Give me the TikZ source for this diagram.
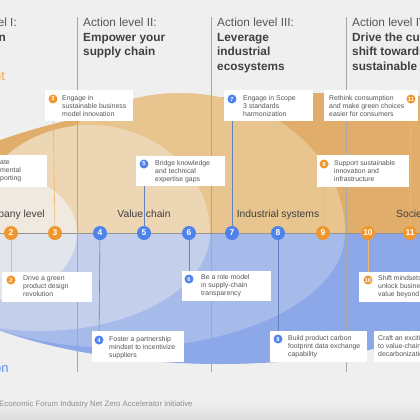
\documentclass[tikz,border=0pt]{standalone}
\usepackage{fontspec}
\setmainfont{Liberation Sans}
\definecolor{bg}{HTML}{EFEFEF}
\definecolor{socU}{HTML}{E0AE6A}
\definecolor{indU}{HTML}{E8C48F}
\definecolor{valU}{HTML}{EDD6B4}
\definecolor{comU}{HTML}{F0E9DF}
\definecolor{socL}{HTML}{8CA8E8}
\definecolor{indL}{HTML}{A7BBEA}
\definecolor{valL}{HTML}{C3CFEB}
\definecolor{comL}{HTML}{E2E5EC}
\definecolor{orc}{HTML}{F0962F}
\definecolor{blc}{HTML}{4F82EA}
\definecolor{txt}{HTML}{555555}
\definecolor{hdr}{HTML}{404040}
\definecolor{sep}{HTML}{A8A8A8}
\tikzset{
  hdrA/.style={inner sep=0pt, anchor=base west, text=txt, font=\fontsize{11.8bp}{14bp}\selectfont},
  hdrB/.style={inner sep=0pt, anchor=base west, text=hdr, font=\fontsize{11.8bp}{14bp}\selectfont\bfseries},
  lvl/.style={inner sep=0pt, anchor=base, text=hdr, font=\fontsize{10.3bp}{12bp}\selectfont},
  btxt/.style={inner sep=0pt, anchor=base west, text=txt, font=\fontsize{6.9bp}{8bp}\selectfont},
  wbox/.style={fill=white, draw=none, inner sep=0pt, anchor=north west},
  bigdot/.style={circle, inner sep=0pt, minimum size=14bp, text=white, font=\fontsize{8.5bp}{9bp}\selectfont\bfseries},
  smdot/.style={circle, inner sep=0pt, minimum size=9bp, text=white, font=\fontsize{5.8bp}{6bp}\selectfont\bfseries},
  oline/.style={draw=orc!70, line width=0.6bp},
  bline/.style={draw=blc!60!gray, line width=0.6bp},
}
\newcommand\tri[5]{%
  \node[btxt] (#1a) at (#2,#3) {#4};
  \node[btxt] (#1b) at (#2,#3+8.2) {#5};
}
\begin{document}
\begin{tikzpicture}[x=1bp,y=-1bp]
\useasboundingbox (0,0) rectangle (420,420);
\clip (0,0) rectangle (420,420);
\fill[bg] (0,0) rectangle (420,420);
\shade[top color=bg, bottom color=black!14] (0,402) rectangle (420,420);
% upper halves
\begin{scope}
\clip (-10,0) rectangle (430,233);
\fill[socU] (330,233) ellipse [x radius=441, y radius=140];
\fill[indU] (180,233) ellipse [x radius=165, y radius=140];
\fill[valU] (90,233) ellipse [x radius=120, y radius=108];
\fill[comU] (-10,233) ellipse [x radius=87, y radius=62];
\end{scope}
% lower halves
\begin{scope}
\clip (-10,233) rectangle (430,420);
\fill[socL] (220,233) ellipse [x radius=330, y radius=131];
\fill[indL] (120,233) ellipse [x radius=225, y radius=115];
\fill[valL] (40,233) ellipse [x radius=170, y radius=98];
\fill[comL] (-10,233) ellipse [x radius=87, y radius=67];
\end{scope}
% separators
\coordinate (s1t) at (77,17); \coordinate (s1b) at (77,372);
\coordinate (s2t) at (211,17); \coordinate (s2b) at (211,372);
\coordinate (s3t) at (346,17); \coordinate (s3b) at (346,372);
\draw[sep, line width=0.6bp] (s1t) -- (s1b);
\draw[sep, line width=0.6bp] (s2t) -- (s2b);
\draw[sep, line width=0.6bp] (s3t) -- (s3b);
% axis
\coordinate (axL) at (0,233); \coordinate (axR) at (420,233);
\draw[black!42, line width=0.8bp] (axL) -- (axR);
% headers
\node[hdrA,anchor=base east] (h1x) at (17,26) {el I:};
\node[hdrB,anchor=base east] (h1b) at (6,41) {n};
\node[inner sep=0pt, anchor=base west, text=orc!85, font=\fontsize{13bp}{14bp}\selectfont] (h1c) at (-6,80) {nt};
\node[inner sep=0pt, anchor=base west, text=blc!90, font=\fontsize{13bp}{14bp}\selectfont] (h1d) at (-6,372) {on};
\node[hdrA] (h2a) at (83,26) {Action level II:};
\node[hdrB] (h2b) at (83,41) {Empower your};
\node[hdrB] (h2c) at (83,55.5) {supply chain};
\node[hdrA] (h3a) at (217,26) {Action level III:};
\node[hdrB] (h3b) at (217,41) {Leverage};
\node[hdrB] (h3c) at (217,55.5) {industrial};
\node[hdrB] (h3d) at (217,70) {ecosystems};
\node[hdrA] (h4a) at (352,26) {Action level IV:};
\node[hdrB] (h4b) at (352,41) {Drive the customer};
\node[hdrB] (h4c) at (352,55.5) {shift towards};
\node[hdrB] (h4d) at (352,70) {sustainable};
% level labels
\node[lvl, anchor=base east] (l1) at (45,217) {pany level};
\node[lvl] (l2) at (144,217) {Value chain};
\node[lvl] (l3) at (278,217) {Industrial systems};
\node[lvl, anchor=base west] (l4) at (396,217) {Society};
% big dots
\foreach \n/\x/\c in {2/11/orc,3/55/orc,4/100/blc,5/144/blc,6/189/blc,7/232/blc,8/278/blc,9/323/orc,10/368/orc,11/410/orc}{
  \node[bigdot, fill=\c] (c\n) at (\x,233) {};
}
% small dots (anchors in boxes)
\node[smdot, fill=orc] (d3) at (53,99) {3};
\node[smdot, fill=orc] (d2) at (11,280) {2};
\node[smdot, fill=blc] (d5) at (144,164) {5};
\node[smdot, fill=blc] (d6) at (189,279) {6};
\node[smdot, fill=blc] (d4) at (99,340) {4};
\node[smdot, fill=blc] (d7) at (232,99) {7};
\node[smdot, fill=orc] (d9) at (324,164) {9};
\node[smdot, fill=blc] (d8) at (278,339) {8};
\node[smdot, fill=orc] (d10) at (368,280) {10};
\node[smdot, fill=orc] (d11) at (411,99) {11};
% connectors
\draw[oline] (c3) -- (d3);
\draw[oline] (c2) -- (d2);
\draw[bline] (c5) -- (d5);
\draw[bline] (c6) -- (d6);
\draw[bline] (c4) -- (d4);
\draw[bline] (c7) -- (d7);
\draw[oline] (c9) -- (d9);
\draw[bline] (c8) -- (d8);
\draw[oline] (c10) -- (d10);
\draw[oline] (c11) -- (d11);
% boxes
\node[wbox, minimum width=88bp, minimum height=31bp] (b3) at (45,90) {};
\node[wbox, minimum width=60bp, minimum height=32bp] (b1) at (-13,155) {};
\node[wbox, minimum width=90bp, minimum height=30bp] (b2) at (2,272) {};
\node[wbox, minimum width=89bp, minimum height=30bp] (b5) at (136,156) {};
\node[wbox, minimum width=89bp, minimum height=30bp] (b6) at (182,271) {};
\node[wbox, minimum width=92bp, minimum height=31bp] (b4) at (92,331) {};
\node[wbox, minimum width=89bp, minimum height=31bp] (b7) at (224,90) {};
\node[wbox, minimum width=94bp, minimum height=31bp] (b11) at (324,90) {};
\node[wbox, minimum width=92bp, minimum height=32bp] (b9) at (317,155) {};
\node[wbox, minimum width=97bp, minimum height=31bp] (b8) at (270,331) {};
\node[wbox, minimum width=70bp, minimum height=30bp] (b10) at (359,272) {};
\node[wbox, minimum width=60bp, minimum height=31bp] (b12) at (374,331) {};
% redraw small dots over boxes
\foreach \n/\c in {3/orc,2/orc,5/blc,6/blc,4/blc,7/blc,9/orc,8/blc,10/orc,11/orc}{
  \node[smdot, fill=\c] at (d\n) {\n};
}
\foreach \n in {2,...,11}{ \node[bigdot] at (c\n) {\n}; }
% box texts
\tri{t3}{62}{100}{Engage in}{sustainable business}
\node[btxt] (t3c) at (62,116.4) {model innovation};
\node[btxt] (t1a) at (0,164) {ate};
\node[btxt] (t1b) at (0,172.2) {mental};
\node[btxt] (t1c) at (0,180.4) {porting};
\tri{t2}{23}{280}{Drive a green}{product design}
\node[btxt] (t2c) at (23,296.4) {revolution};
\tri{t5}{155}{165}{Bridge knowledge}{and technical}
\node[btxt] (t5c) at (155,181.4) {expertise gaps};
\tri{t6}{201}{279}{Be a role model}{in supply-chain}
\node[btxt] (t6c) at (201,295.4) {transparency};
\tri{t4}{109}{341}{Foster a partnership}{mindset to incentivize}
\node[btxt] (t4c) at (109,357.4) {suppliers};
\tri{t7}{243}{100}{Engage in Scope}{3 standards}
\node[btxt] (t7c) at (243,116.4) {harmonization};
\tri{t11}{329}{100}{Rethink consumption}{and make green choices}
\node[btxt] (t11c) at (329,116.4) {easier for consumers};
\tri{t9}{334}{165}{Support sustainable}{innovation and}
\node[btxt] (t9c) at (334,181.4) {infrastructure};
\tri{t8}{288}{340}{Build product carbon}{footprint data exchange}
\node[btxt] (t8c) at (288,356.4) {capability};
\tri{t10}{378}{280}{Shift mindsets to}{unlock business}
\node[btxt] (t10c) at (378,296.4) {value beyond};
\tri{t12}{378}{340}{Craft an exciting}{to value-chain}
\node[btxt] (t12c) at (378,356.4) {decarbonization};
% footer
\node[inner sep=0pt, anchor=base west, text=black!45, font=\fontsize{7.8bp}{9bp}\selectfont] (foot) at (-1,406) {Economic Forum Industry Net Zero Accelerator initiative};
\end{tikzpicture}
\end{document}
